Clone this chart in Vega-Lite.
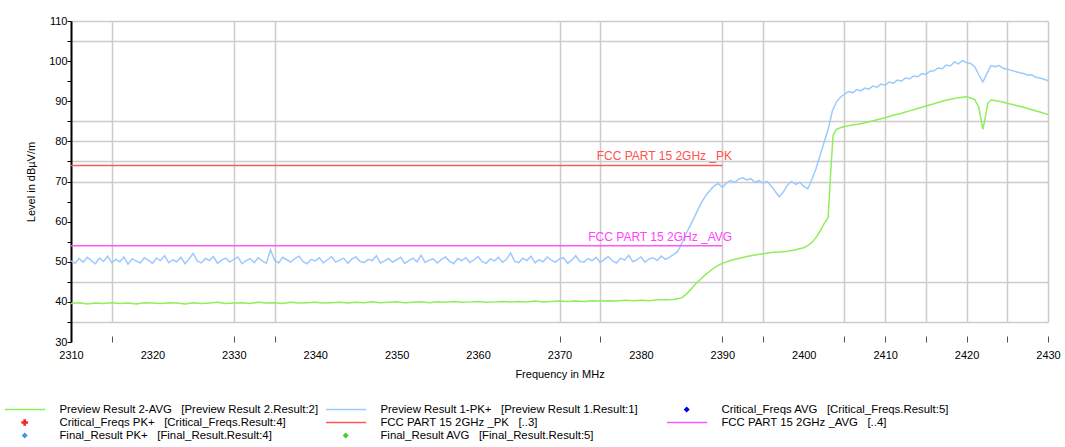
{
  "$schema": "https://vega.github.io/schema/vega-lite/v6.json",
  "width": 977,
  "height": 321,
  "autosize": {"type": "none"},
  "padding": {"left": 71, "top": 21, "right": 17, "bottom": 105},
  "background": "white",
  "config": {"view": {"stroke": null}, "font": "Liberation Sans"},
  "datasets": {
    "pk": [
      {"f":2310,"v":50.2},{"f":2310.5,"v":49.6},{"f":2311,"v":50.8},{"f":2311.5,"v":49.9},{"f":2312,"v":51.1},{"f":2312.5,"v":50.3},{"f":2313,"v":49.5},{"f":2313.5,"v":50.9},{"f":2314,"v":50.1},{"f":2314.5,"v":51.4},
      {"f":2315,"v":49.8},{"f":2315.5,"v":50.6},{"f":2316,"v":50.0},{"f":2316.5,"v":51.2},{"f":2317,"v":49.4},{"f":2317.5,"v":50.7},{"f":2318,"v":50.2},{"f":2318.5,"v":49.7},{"f":2319,"v":51.0},{"f":2319.5,"v":50.4},
      {"f":2320,"v":49.6},{"f":2320.5,"v":50.9},{"f":2321,"v":50.3},{"f":2321.5,"v":51.5},{"f":2322,"v":49.8},{"f":2322.5,"v":50.5},{"f":2323,"v":50.0},{"f":2323.5,"v":51.1},{"f":2324,"v":49.5},{"f":2324.5,"v":50.7},
      {"f":2325,"v":52.1},{"f":2325.5,"v":50.2},{"f":2326,"v":49.7},{"f":2326.5,"v":50.8},{"f":2327,"v":50.3},{"f":2327.5,"v":51.3},{"f":2328,"v":49.6},{"f":2328.5,"v":50.4},{"f":2329,"v":50.9},{"f":2329.5,"v":49.9},
      {"f":2330,"v":50.6},{"f":2330.5,"v":51.2},{"f":2331,"v":49.5},{"f":2331.5,"v":50.3},{"f":2332,"v":50.8},{"f":2332.5,"v":49.8},{"f":2333,"v":51.0},{"f":2333.5,"v":50.2},{"f":2334,"v":49.6},{"f":2334.5,"v":53.0},
      {"f":2335,"v":50.4},{"f":2335.5,"v":49.7},{"f":2336,"v":51.1},{"f":2336.5,"v":50.5},{"f":2337,"v":49.9},{"f":2337.5,"v":50.8},{"f":2338,"v":51.4},{"f":2338.5,"v":50.0},{"f":2339,"v":49.5},{"f":2339.5,"v":50.6},
      {"f":2340,"v":50.2},{"f":2340.5,"v":51.0},{"f":2341,"v":49.7},{"f":2341.5,"v":50.5},{"f":2342,"v":51.3},{"f":2342.5,"v":49.9},{"f":2343,"v":50.4},{"f":2343.5,"v":50.9},{"f":2344,"v":49.6},{"f":2344.5,"v":50.7},
      {"f":2345,"v":51.2},{"f":2345.5,"v":50.1},{"f":2346,"v":49.8},{"f":2346.5,"v":50.6},{"f":2347,"v":50.3},{"f":2347.5,"v":51.5},{"f":2348,"v":49.7},{"f":2348.5,"v":50.2},{"f":2349,"v":50.8},{"f":2349.5,"v":49.9},
      {"f":2350,"v":50.5},{"f":2350.5,"v":51.1},{"f":2351,"v":49.6},{"f":2351.5,"v":50.3},{"f":2352,"v":50.9},{"f":2352.5,"v":50.0},{"f":2353,"v":51.6},{"f":2353.5,"v":49.8},{"f":2354,"v":50.4},{"f":2354.5,"v":50.7},
      {"f":2355,"v":49.7},{"f":2355.5,"v":50.6},{"f":2356,"v":51.2},{"f":2356.5,"v":50.1},{"f":2357,"v":49.5},{"f":2357.5,"v":50.8},{"f":2358,"v":50.3},{"f":2358.5,"v":51.0},{"f":2359,"v":49.8},{"f":2359.5,"v":50.5},
      {"f":2360,"v":51.3},{"f":2360.5,"v":50.0},{"f":2361,"v":49.6},{"f":2361.5,"v":50.7},{"f":2362,"v":50.2},{"f":2362.5,"v":51.1},{"f":2363,"v":49.9},{"f":2363.5,"v":50.6},{"f":2364,"v":52.2},{"f":2364.5,"v":50.1},
      {"f":2365,"v":49.8},{"f":2365.5,"v":50.9},{"f":2366,"v":50.3},{"f":2366.5,"v":51.4},{"f":2367,"v":49.7},{"f":2367.5,"v":50.5},{"f":2368,"v":50.0},{"f":2368.5,"v":51.2},{"f":2369,"v":50.4},{"f":2369.5,"v":49.9},
      {"f":2370,"v":50.7},{"f":2370.5,"v":51.0},{"f":2371,"v":49.6},{"f":2371.5,"v":50.4},{"f":2372,"v":51.5},{"f":2372.5,"v":50.1},{"f":2373,"v":49.9},{"f":2373.5,"v":50.8},{"f":2374,"v":50.3},{"f":2374.5,"v":51.1},
      {"f":2375,"v":49.8},{"f":2375.5,"v":50.6},{"f":2376,"v":51.3},{"f":2376.5,"v":50.2},{"f":2377,"v":49.7},{"f":2377.5,"v":50.9},{"f":2378,"v":50.4},{"f":2378.5,"v":51.6},{"f":2379,"v":50.0},{"f":2379.5,"v":50.5},
      {"f":2380,"v":51.2},{"f":2380.5,"v":49.9},{"f":2381,"v":50.7},{"f":2381.5,"v":51.0},{"f":2382,"v":50.3},{"f":2382.5,"v":51.4},{"f":2383,"v":50.6},{"f":2383.5,"v":51.1},{"f":2384,"v":51.8},{"f":2384.5,"v":52.5},
      {"f":2385,"v":54.5},{"f":2385.5,"v":56.8},{"f":2386,"v":58.8},{"f":2386.5,"v":60.8},{"f":2387,"v":63.0},{"f":2387.5,"v":65.0},{"f":2388,"v":66.6},{"f":2388.5,"v":67.8},{"f":2389,"v":68.9},{"f":2389.5,"v":69.5},
      {"f":2390,"v":68.5},{"f":2390.5,"v":69.6},{"f":2391,"v":70.3},{"f":2391.5,"v":69.8},{"f":2392,"v":70.6},{"f":2392.5,"v":70.9},{"f":2393,"v":70.4},{"f":2393.5,"v":70.7},{"f":2394,"v":69.8},{"f":2394.5,"v":70.2},
      {"f":2395,"v":69.6},{"f":2395.5,"v":70.0},{"f":2396,"v":68.9},{"f":2396.5,"v":67.5},{"f":2397,"v":66.2},{"f":2397.5,"v":67.4},{"f":2398,"v":69.1},{"f":2398.5,"v":70.0},{"f":2399,"v":69.3},{"f":2399.5,"v":69.8},
      {"f":2400,"v":68.8},{"f":2400.5,"v":68.2},{"f":2401,"v":70.5},{"f":2401.5,"v":73.2},{"f":2402,"v":76.5},{"f":2402.5,"v":79.8},{"f":2403,"v":83.0},{"f":2403.5,"v":87.5},{"f":2404,"v":89.8},{"f":2404.5,"v":91.0},
      {"f":2405,"v":91.8},{"f":2405.5,"v":92.4},{"f":2406,"v":92.1},{"f":2406.5,"v":92.9},{"f":2407,"v":92.6},{"f":2407.5,"v":93.3},{"f":2408,"v":93.0},{"f":2408.5,"v":93.8},{"f":2409,"v":93.5},{"f":2409.5,"v":94.3},
      {"f":2410,"v":94.0},{"f":2410.5,"v":94.8},{"f":2411,"v":94.5},{"f":2411.5,"v":95.3},{"f":2412,"v":95.0},{"f":2412.5,"v":95.8},{"f":2413,"v":95.6},{"f":2413.5,"v":96.3},{"f":2414,"v":96.1},{"f":2414.5,"v":96.9},
      {"f":2415,"v":96.7},{"f":2415.5,"v":97.5},{"f":2416,"v":97.6},{"f":2416.5,"v":98.3},{"f":2417,"v":98.1},{"f":2417.5,"v":99.0},{"f":2418,"v":98.8},{"f":2418.5,"v":99.8},{"f":2419,"v":99.3},{"f":2419.5,"v":100.2},
      {"f":2420,"v":99.6},{"f":2420.5,"v":99.4},{"f":2421,"v":98.6},{"f":2421.5,"v":96.6},{"f":2422,"v":94.8},{"f":2422.5,"v":96.9},{"f":2423,"v":98.9},{"f":2423.5,"v":98.6},{"f":2424,"v":98.9},{"f":2424.5,"v":98.2},
      {"f":2425,"v":98.0},{"f":2425.5,"v":97.7},{"f":2426,"v":97.4},{"f":2426.5,"v":97.1},{"f":2427,"v":96.9},{"f":2427.5,"v":96.5},{"f":2428,"v":96.6},{"f":2428.5,"v":96.0},{"f":2429,"v":95.8},{"f":2429.5,"v":95.5},
      {"f":2430,"v":95.1}
    ],
    "avg": [
      {"f":2310,"v":39.6},{"f":2311,"v":39.8},{"f":2312,"v":39.5},{"f":2313,"v":39.7},{"f":2314,"v":39.6},{"f":2315,"v":39.8},{"f":2316,"v":39.6},{"f":2317,"v":39.7},{"f":2318,"v":39.5},{"f":2319,"v":39.8},
      {"f":2320,"v":39.7},{"f":2321,"v":39.6},{"f":2322,"v":39.8},{"f":2323,"v":39.7},{"f":2324,"v":39.5},{"f":2325,"v":39.8},{"f":2326,"v":39.6},{"f":2327,"v":39.7},{"f":2328,"v":39.9},{"f":2329,"v":39.6},
      {"f":2330,"v":39.7},{"f":2331,"v":39.8},{"f":2332,"v":39.6},{"f":2333,"v":39.9},{"f":2334,"v":39.7},{"f":2335,"v":39.8},{"f":2336,"v":39.6},{"f":2337,"v":39.9},{"f":2338,"v":39.7},{"f":2339,"v":39.8},
      {"f":2340,"v":39.9},{"f":2341,"v":39.7},{"f":2342,"v":39.8},{"f":2343,"v":39.9},{"f":2344,"v":39.7},{"f":2345,"v":39.9},{"f":2346,"v":39.8},{"f":2347,"v":40.0},{"f":2348,"v":39.8},{"f":2349,"v":39.9},
      {"f":2350,"v":40.0},{"f":2351,"v":39.8},{"f":2352,"v":39.9},{"f":2353,"v":40.0},{"f":2354,"v":39.8},{"f":2355,"v":40.0},{"f":2356,"v":39.9},{"f":2357,"v":40.1},{"f":2358,"v":39.9},{"f":2359,"v":40.0},
      {"f":2360,"v":40.1},{"f":2361,"v":39.9},{"f":2362,"v":40.0},{"f":2363,"v":40.1},{"f":2364,"v":40.0},{"f":2365,"v":40.1},{"f":2366,"v":40.0},{"f":2367,"v":40.2},{"f":2368,"v":40.0},{"f":2369,"v":40.1},
      {"f":2370,"v":40.2},{"f":2371,"v":40.1},{"f":2372,"v":40.2},{"f":2373,"v":40.1},{"f":2374,"v":40.3},{"f":2375,"v":40.2},{"f":2376,"v":40.3},{"f":2377,"v":40.2},{"f":2378,"v":40.4},{"f":2379,"v":40.3},
      {"f":2380,"v":40.4},{"f":2381,"v":40.3},{"f":2382,"v":40.5},{"f":2383,"v":40.5},{"f":2384,"v":40.6},{"f":2384.5,"v":40.8},{"f":2385,"v":41.0},{"f":2385.5,"v":41.8},{"f":2386,"v":42.8},{"f":2386.5,"v":44.0},
      {"f":2387,"v":45.0},{"f":2387.5,"v":46.0},{"f":2388,"v":46.9},{"f":2388.5,"v":47.7},{"f":2389,"v":48.5},{"f":2389.5,"v":49.1},{"f":2390,"v":49.6},{"f":2391,"v":50.3},{"f":2392,"v":50.8},{"f":2393,"v":51.3},
      {"f":2394,"v":51.7},{"f":2395,"v":52.0},{"f":2396,"v":52.3},{"f":2397,"v":52.4},{"f":2398,"v":52.6},{"f":2399,"v":53.0},{"f":2400,"v":53.5},{"f":2400.5,"v":54.0},{"f":2401,"v":54.8},{"f":2401.5,"v":56.0},
      {"f":2402,"v":57.6},{"f":2402.5,"v":59.5},{"f":2403,"v":61.0},{"f":2403.3,"v":72.0},{"f":2403.6,"v":81.5},{"f":2404,"v":83.0},{"f":2404.5,"v":83.4},{"f":2405,"v":83.7},{"f":2406,"v":84.1},{"f":2407,"v":84.4},
      {"f":2408,"v":84.9},{"f":2409,"v":85.4},{"f":2410,"v":85.9},{"f":2411,"v":86.5},{"f":2412,"v":87.0},{"f":2413,"v":87.6},{"f":2414,"v":88.2},{"f":2415,"v":88.8},{"f":2416,"v":89.4},{"f":2417,"v":90.0},
      {"f":2418,"v":90.5},{"f":2419,"v":90.9},{"f":2420,"v":91.1},{"f":2420.5,"v":90.8},{"f":2421,"v":90.4},{"f":2421.5,"v":88.5},{"f":2422,"v":83.0},{"f":2422.3,"v":86.0},{"f":2422.6,"v":89.5},{"f":2423,"v":90.3},
      {"f":2424,"v":90.0},{"f":2425,"v":89.5},{"f":2426,"v":89.0},{"f":2427,"v":88.5},{"f":2428,"v":87.9},{"f":2429,"v":87.3},{"f":2430,"v":86.7}
    ],
    "lpk": [{"f":2310,"v":74},{"f":2390,"v":74}],
    "lavg": [{"f":2310,"v":54},{"f":2390,"v":54}]
  },
  "encoding": {
    "x": {
      "field": "f", "type": "quantitative",
      "scale": {"domain": [2310, 2430], "nice": false, "zero": false},
      "axis": {
        "title": "Frequency in MHz",
        "values": [2310,2315,2320,2330,2335,2340,2350,2360,2370,2375,2380,2390,2395,2400,2405,2410,2415,2420,2425,2430],
        "format": "d",
        "labelExpr": "datum.value % 10 == 0 ? datum.label : ''",
        "labelFlush": false, "labelOverlap": false,
        "labelFont": "Liberation Sans", "labelFontSize": 11, "labelColor": "black", "labelPadding": 13,
        "domain": false,
        "grid": true, "gridColor": "#cccccc", "gridWidth": 1.5, "gridDash": [301, 1000],
        "gridOpacity": {"condition": {"test": "indexof([2315,2330,2335,2370,2375,2390,2395,2405,2410,2415,2420,2425,2430], datum.value) >= 0", "value": 1}, "value": 0},
        "ticks": true, "tickColor": "#555555", "tickSize": -6, "tickWidth": 1,
        "tickOpacity": {"condition": {"test": "indexof([2315,2330,2335,2370,2375,2390,2395,2405,2410,2415,2420,2425,2430], datum.value) >= 0", "value": 1}, "value": 0},
        "titleFont": "Liberation Sans", "titleFontSize": 11, "titleFontWeight": "normal", "titleColor": "black", "titlePadding": 8
      }
    },
    "y": {
      "field": "v", "type": "quantitative",
      "scale": {"domain": [30, 110], "nice": false, "zero": false},
      "axis": {
        "title": "Level in dBµV/m",
        "values": [30,35,40,45,50,55,60,65,70,75,80,85,90,95,100,105,110],
        "labelExpr": "datum.value % 10 == 0 ? datum.label : ''",
        "labelOverlap": false,
        "labelFont": "Liberation Sans", "labelFontSize": 11, "labelColor": "black", "labelPadding": 0,
        "domain": true, "domainColor": "black", "domainWidth": 2,
        "grid": true, "gridColor": "#cccccc", "gridWidth": 1.5,
        "gridOpacity": {"condition": {"test": "indexof([35,45,70,75,80,85,105,110], datum.value) >= 0", "value": 1}, "value": 0},
        "ticks": true, "tickColor": "black", "tickSize": 4, "tickWidth": 1,
        "titleFont": "Liberation Sans", "titleFontSize": 11, "titleFontWeight": "normal", "titleColor": "black", "titlePadding": 12
      }
    }
  },
  "layer": [
    {
      "data": {"name": "avg"},
      "mark": {"type": "line", "strokeWidth": 1.5, "interpolate": "linear"},
      "encoding": {
        "color": {
          "datum": "avg",
          "scale": {
            "domain": ["avg","pk","cavg","cpk","lpk","lavg","fpk","favg"],
            "range": ["#8eee5c","#9ccaff","#0000ee","#ee2a2a","#ff5a5a","#ff55ff","#3a96ee","#44cc33"]
          },
          "legend": {
            "title": null,
            "orient": "none", "legendX": -66, "legendY": 382,
            "direction": "horizontal", "columns": 3,
            "padding": 0,
            "symbolSize": 1681, "symbolStrokeWidth": 1.5, "symbolType": "stroke", "symbolOffset": 14,
            "clipHeight": 13, "rowPadding": 0, "columnPadding": 7,
            "labelOffset": 29, "labelFont": "Liberation Sans", "labelFontSize": 11.4, "labelColor": "black", "labelLimit": 400,
            "labelExpr": "{'avg':'Preview Result 2-AVG\u00a0\u00a0\u00a0[Preview Result 2.Result:2]','pk':'Preview Result 1-PK+\u00a0\u00a0\u00a0[Preview Result 1.Result:1]\u00a0\u00a0\u00a0\u00a0\u00a0\u00a0\u00a0\u200b','cavg':'Critical_Freqs AVG\u00a0\u00a0\u00a0[Critical_Freqs.Result:5]','cpk':'Critical_Freqs PK+\u00a0\u00a0\u00a0[Critical_Freqs.Result:4]','lpk':'FCC PART 15 2GHz _PK\u00a0\u00a0\u00a0[..3]','lavg':'FCC PART 15 2GHz _AVG\u00a0\u00a0\u00a0[..4]','fpk':'Final_Result PK+\u00a0\u00a0\u00a0[Final_Result.Result:4]','favg':'Final_Result AVG\u00a0\u00a0\u00a0[Final_Result.Result:5]'}[datum.value]",
            "encode": {
              "symbols": {
                "update": {
                  "shape": {"signal": "indexof(['cavg','fpk','favg'], datum.value) >= 0 ? 'diamond' : (datum.value == 'cpk' ? 'cross' : 'stroke')"},
                  "size": {"signal": "indexof(['cavg','fpk','favg'], datum.value) >= 0 ? 36 : (datum.value == 'cpk' ? 45 : 1681)"},
                  "fill": {"signal": "indexof(['cavg','fpk','favg','cpk'], datum.value) >= 0 ? scale('color', datum.value) : 'transparent'"},
                  "stroke": {"signal": "scale('color', datum.value)"},
                  "strokeWidth": {"signal": "indexof(['cavg','fpk','favg','cpk'], datum.value) >= 0 ? 0 : 1.5"},
                  "opacity": {"value": 1}
                }
              }
            }
          }
        }
      }
    },
    {
      "data": {"name": "pk"},
      "mark": {"type": "line", "strokeWidth": 1.5},
      "encoding": {"color": {"datum": "pk"}}
    },
    {
      "data": {"name": "lpk"},
      "mark": {"type": "line", "strokeWidth": 1.5},
      "encoding": {"color": {"datum": "lpk"}}
    },
    {
      "data": {"name": "lavg"},
      "mark": {"type": "line", "strokeWidth": 1.5},
      "encoding": {"color": {"datum": "lavg"}}
    },
    {
      "data": {"values": [{"f": 2391.2, "v": 74, "t": "FCC PART 15 2GHz _PK"}]},
      "mark": {"type": "text", "align": "right", "baseline": "bottom", "dy": -2, "fontSize": 12, "font": "Liberation Sans", "color": "#ff5050"},
      "encoding": {"text": {"field": "t"}}
    },
    {
      "data": {"values": [{"f": 2391.2, "v": 54, "t": "FCC PART 15 2GHz _AVG"}]},
      "mark": {"type": "text", "align": "right", "baseline": "bottom", "dy": -2, "fontSize": 12, "font": "Liberation Sans", "color": "#ff44ff"},
      "encoding": {"text": {"field": "t"}}
    }
  ]
}
